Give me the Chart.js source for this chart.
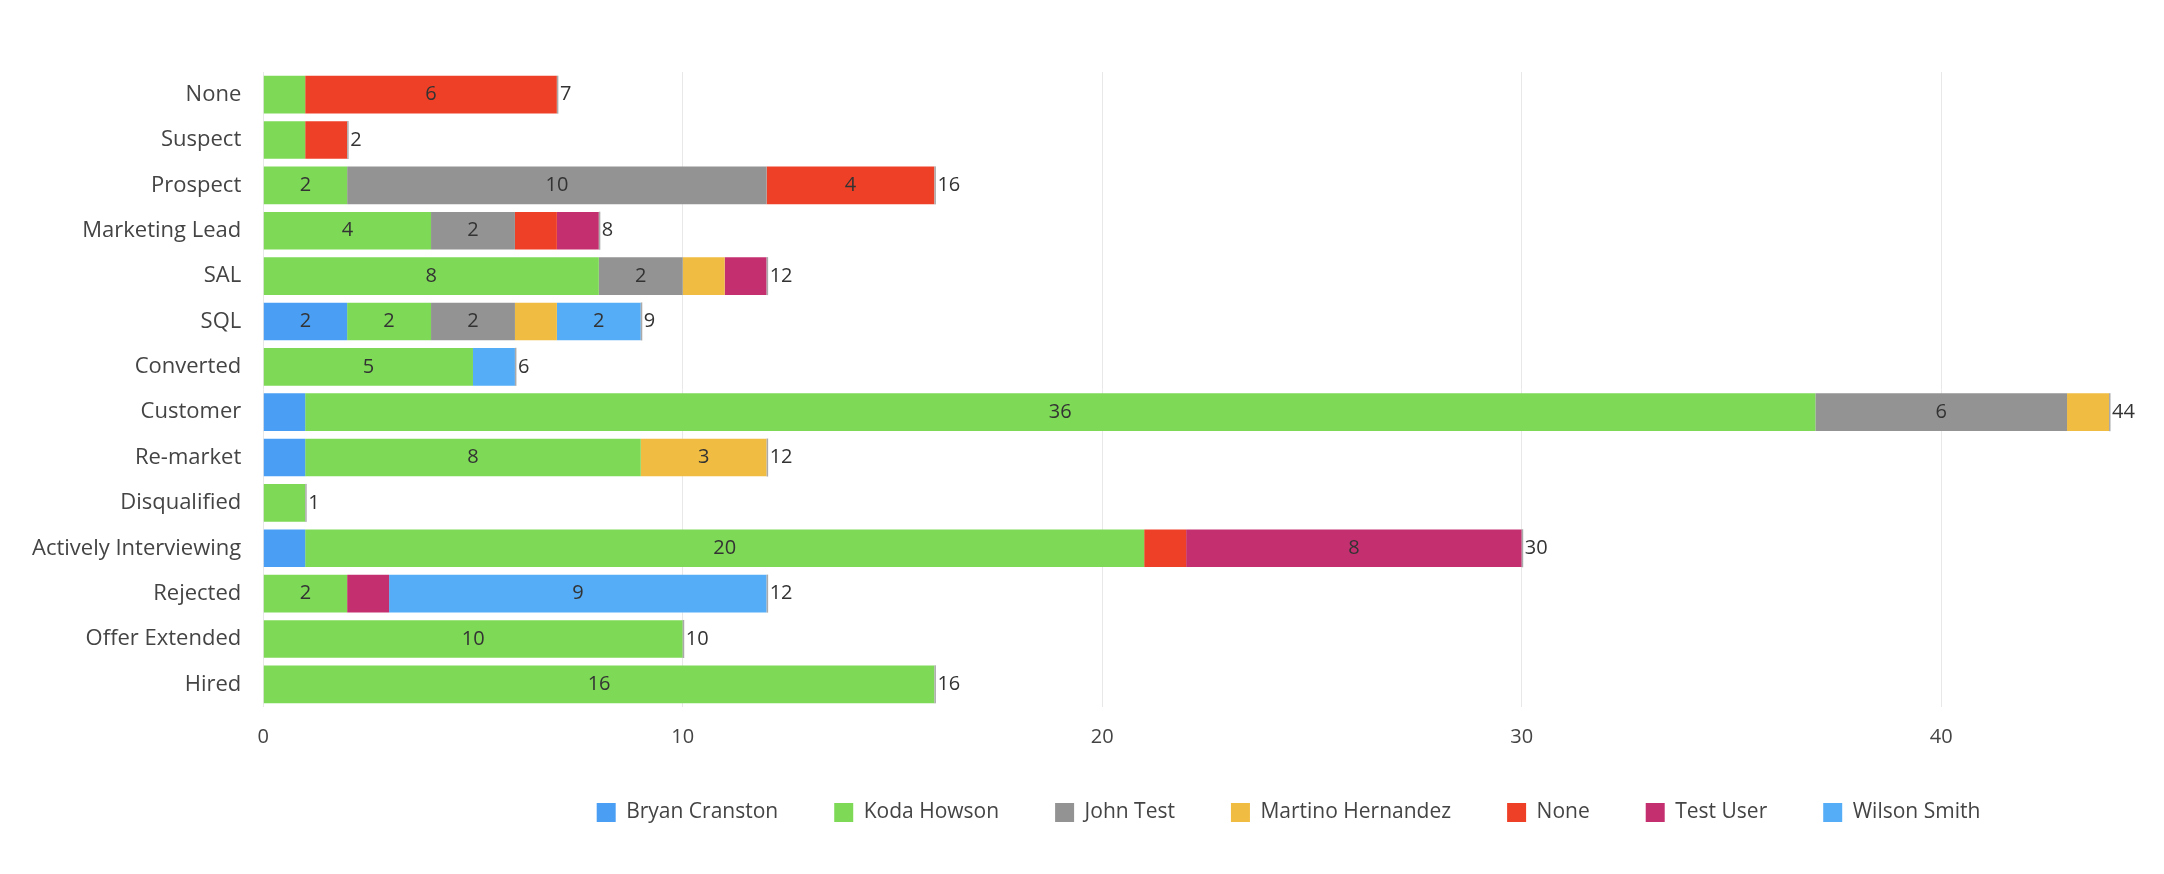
<!DOCTYPE html>
<html><head><meta charset="utf-8">
<script src="https://cdn.jsdelivr.net/npm/chart.js@4/dist/chart.umd.min.js"></script>
<style>html,body{margin:0;background:#fff}#w{width:2164px;height:874px}</style>
</head><body><div id="w"><canvas id="c"></canvas></div>
<script>
const categories=["None","Suspect","Prospect","Marketing Lead","SAL","SQL","Converted","Customer","Re-market","Disqualified","Actively Interviewing","Rejected","Offer Extended","Hired"];
const bryan  =[0,0,0,0,0,2,0,1,1,0,1,0,0,0];
const koda   =[1,1,2,4,8,2,5,36,8,1,20,2,10,16];
const john   =[0,0,10,2,2,2,0,6,0,0,0,0,0,0];
const martino=[0,0,0,0,1,1,0,1,3,0,0,0,0,0];
const none   =[6,1,4,1,0,0,0,0,0,0,1,0,0,0];
const testU  =[0,0,0,1,1,0,0,0,0,0,8,1,0,0];
const wilson =[0,0,0,0,0,2,1,0,0,0,0,9,0,0];
const xTicks=[0,10,20,30,40];
const series=[["Bryan Cranston",bryan,"#4a9ff5"],["Koda Howson",koda,"#7ed957"],["John Test",john,"#939393"],["Martino Hernandez",martino,"#f0bc41"],["None",none,"#ee4027"],["Test User",testU,"#c4306f"],["Wilson Smith",wilson,"#55adf7"]];
const totals=categories.map((_,i)=>series.reduce((s,d)=>s+d[1][i],0));
const F="'Open Sans', Lato, sans-serif";
const labelsPlugin={id:'lbl',afterDatasetsDraw(ch){
 const ctx=ch.ctx;ctx.save();ctx.font="20px "+F;ctx.fillStyle="#333";ctx.textBaseline="middle";
 ch.data.datasets.forEach((ds,di)=>{const m=ch.getDatasetMeta(di);m.data.forEach((b,i)=>{
  const v=ds.data[i];if(v>=2){ctx.textAlign="center";ctx.fillText(v,(b.x+b.base)/2,b.y);}});});
 const xs=ch.scales.x,ys=ch.scales.y;
 totals.forEach((t,i)=>{const x=xs.getPixelForValue(t),y=ys.getPixelForValue(i);
  ctx.fillStyle="#aaa";ctx.fillRect(x,y-19,1.5,38);
  ctx.fillStyle="#333";ctx.textAlign="left";ctx.fillText(t,x+3,y);});
 ctx.restore();}};
const legendShift={id:'lshift',afterLayout(ch){const l=ch.legend;if(!l)return;
 l.left+=225;l.right+=225;l.top-=21;l.bottom-=21;}};
new Chart(document.getElementById('c'),{type:'bar',
 data:{labels:categories,datasets:series.map(s=>({label:s[0],data:s[1],backgroundColor:s[2],barPercentage:0.83,categoryPercentage:1}))},
 options:{indexAxis:'y',responsive:true,maintainAspectRatio:false,animation:false,
  layout:{padding:{left:18,right:55,top:72,bottom:20}},
  plugins:{legend:{position:'bottom',labels:{boxWidth:19,boxHeight:19,padding:56,font:{size:21,family:F},color:'#444'}},tooltip:{enabled:false}},
  scales:{x:{stacked:true,min:0,max:44,afterBuildTicks(a){a.ticks=xTicks.map(v=>({value:v}));},
    grid:{color:'#e8e8e8',drawTicks:false},border:{display:false},ticks:{padding:18,font:{size:20,family:F},color:'#444'}},
   y:{stacked:true,grid:{display:false},border:{display:false},ticks:{font:{size:22,family:F},color:'#444',padding:14}}}},
 plugins:[labelsPlugin,legendShift]});
</script></body></html>
